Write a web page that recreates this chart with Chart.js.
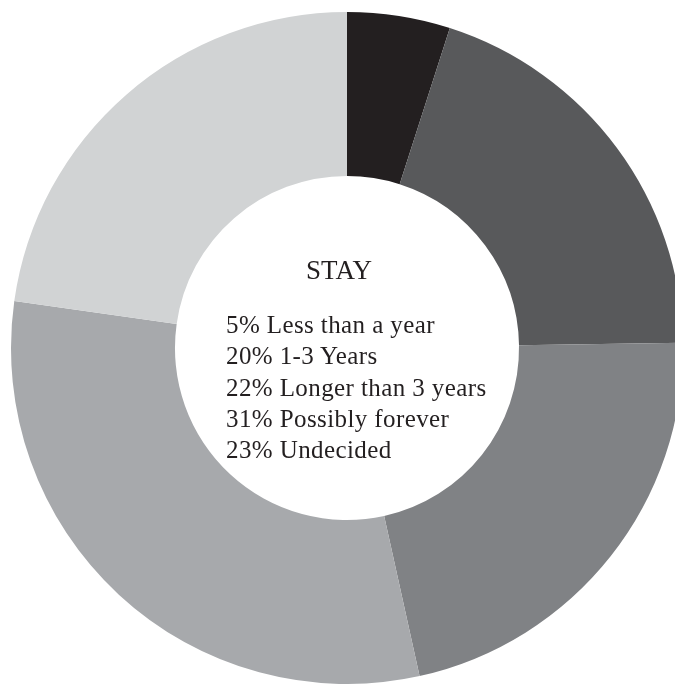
<!DOCTYPE html>
<html>
<head>
<meta charset="utf-8">
<script src="https://cdn.jsdelivr.net/npm/chart.js@4/dist/chart.umd.min.js"></script>
<style>
  html, body { margin: 0; padding: 0; background: #ffffff; overflow: hidden; }
  #wrap { position: relative; width: 675px; height: 684px; overflow: hidden; }
  #chart { position: absolute; left: 0; top: 0; }
  .centerText { position: absolute; font-family: "Liberation Serif", "Times New Roman", serif; color: #231f20; white-space: nowrap; }
  #title { left: 0; width: 678px; text-align: center; top: 255px; font-size: 27px; line-height: 30px; }
  #legend { left: 226px; top: 309px; font-size: 25px; line-height: 31.3px; letter-spacing: 0.4px; }
</style>
</head>
<body>
<div id="wrap">
  <canvas id="chart" width="700" height="684"></canvas>
  <div id="title" class="centerText"></div>
  <div id="legend" class="centerText"></div>
</div>
<script>
// How long people plan to stay (percent of respondents)
const title = "STAY";
const categories = ["Less than a year", "1-3 Years", "Longer than 3 years", "Possibly forever", "Undecided"];
const shares = [5, 20, 22, 31, 23];
const sliceColors = ["#231f20", "#58595b", "#808285", "#a7a9ac", "#d1d3d4"];

// Centre caption and list of shares
document.getElementById("title").textContent = title;
const legend = document.getElementById("legend");
categories.forEach((c, i) => {
  const line = document.createElement("div");
  line.textContent = shares[i] + "% " + c;
  legend.appendChild(line);
});

new Chart(document.getElementById("chart"), {
  type: "doughnut",
  data: {
    labels: categories,
    datasets: [{
      data: shares,
      backgroundColor: sliceColors,
      borderWidth: 0,
      hoverOffset: 0
    }]
  },
  options: {
    responsive: false,
    animation: false,
    cutout: "51.2%",
    layout: { padding: { left: 11, right: 17, top: 12, bottom: 0 } },
    plugins: {
      legend: { display: false },
      tooltip: { enabled: false }
    }
  }
});
</script>
</body>
</html>
